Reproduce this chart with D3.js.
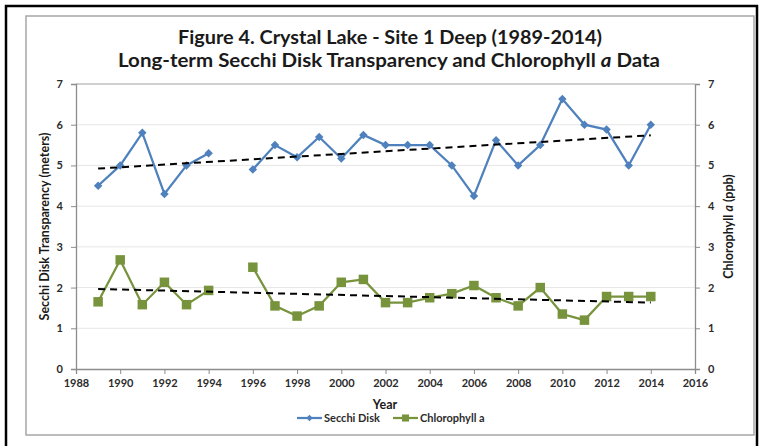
<!DOCTYPE html>
<html>
<head>
<meta charset="utf-8">
<script src="https://cdn.jsdelivr.net/npm/d3@7"></script>
<style>
  body { margin: 0; background: #fff; }
  svg { display: block; font-family: Lato, "Open Sans", sans-serif; }
</style>
</head>
<body>
<div id="chart"></div>
<script>
// Data
const years = [1989, 1990, 1991, 1992, 1993, 1994, 1995, 1996, 1997, 1998, 1999, 2000, 2001,
               2002, 2003, 2004, 2005, 2006, 2007, 2008, 2009, 2010, 2011, 2012, 2013, 2014];
const secchi = [4.5, 5.0, 5.8, 4.3, 5.0, 5.3, null, 4.9, 5.5, 5.2, 5.7, 5.17, 5.75,
                5.5, 5.5, 5.5, 5.0, 4.25, 5.62, 5.0, 5.5, 6.63, 6.0, 5.88, 5.0, 6.0];
const chla = [1.65, 2.68, 1.58, 2.13, 1.58, 1.93, null, 2.5, 1.55, 1.3, 1.55, 2.13, 2.2,
              1.63, 1.63, 1.75, 1.85, 2.05, 1.75, 1.55, 2.0, 1.35, 1.2, 1.78, 1.78, 1.78];
const xTicks = d3.range(1988, 2017, 2);
const yTicks = [0, 1, 2, 3, 4, 5, 6, 7];

const W = 765, H = 446;
const plot = { left: 76, right: 695, top: 84, bottom: 369 };
const blue = '#4f81bd', green = '#77933c', tickCol = '#2b2b2b';

const svg = d3.select('#chart').append('svg')
    .attr('width', W).attr('height', H);

// frames
svg.append('path')
    .attr('d', `M6,${H} V6 H757 V${H}`)
    .attr('fill', 'none').attr('stroke', '#000').attr('stroke-width', 2.5);
svg.append('rect')
    .attr('x', 26).attr('y', 16).attr('width', 728).attr('height', 419)
    .attr('fill', '#fff').attr('stroke', '#a6a6a6').attr('stroke-width', 1.5);

// titles
const title = svg.append('text')
    .attr('text-anchor', 'middle').attr('font-weight', 'bold').attr('font-size', 19)
    .attr('fill', '#1a1a1a');
title.append('tspan').attr('x', 390).attr('y', 44)
    .attr('textLength', 424).attr('lengthAdjust', 'spacingAndGlyphs')
    .text('Figure 4. Crystal Lake - Site 1 Deep (1989-2014)');
const t2 = title.append('tspan').attr('x', 389).attr('y', 67)
    .attr('textLength', 542).attr('lengthAdjust', 'spacingAndGlyphs');
t2.append('tspan').text('Long-term Secchi Disk Transparency and Chlorophyll ');
t2.append('tspan').attr('font-style', 'italic').text('a');
t2.append('tspan').text(' Data');

const x = d3.scaleLinear().domain([1988, 2016]).range([plot.left, plot.right]);
const y = d3.scaleLinear().domain([0, 7]).range([plot.bottom, plot.top]);

// gridlines
svg.append('g').selectAll('line')
    .data(yTicks.filter(d => d > 0))
    .enter().append('line')
    .attr('x1', plot.left).attr('x2', plot.right)
    .attr('y1', d => y(d)).attr('y2', d => y(d))
    .attr('stroke', d => d === 7 ? '#a0a0a0' : '#e6e6e6').attr('stroke-width', 1);

// axes
function styleAxis(g) {
    g.selectAll('.domain').attr('stroke', '#8c8c8c').attr('stroke-width', 1.3);
    g.selectAll('.tick line').attr('stroke', '#8c8c8c');
    g.selectAll('.tick text').attr('fill', tickCol).attr('font-weight', 'bold')
        .attr('font-size', 11).attr('font-family', 'Lato, sans-serif');
}
svg.append('g').attr('transform', `translate(0,${plot.bottom})`)
    .call(d3.axisBottom(x).tickValues(xTicks).tickFormat(d3.format('d')).tickSize(5).tickPadding(5))
    .call(styleAxis);
svg.append('g').attr('transform', `translate(${plot.left},0)`)
    .call(d3.axisLeft(y).tickValues(yTicks).tickFormat(d3.format('d')).tickSize(5).tickPadding(8))
    .call(styleAxis);
svg.append('g').attr('transform', `translate(${plot.right},0)`)
    .call(d3.axisRight(y).tickValues(yTicks).tickFormat(d3.format('d')).tickSize(5).tickPadding(8))
    .call(styleAxis);

// axis titles
svg.append('text')
    .attr('transform', `translate(49,${(plot.top + plot.bottom) / 2}) rotate(-90)`)
    .attr('text-anchor', 'middle').attr('font-weight', 'bold').attr('font-size', 12.5)
    .attr('fill', '#1a1a1a').text('Secchi Disk Transparency (meters)');
const rt = svg.append('text')
    .attr('transform', `translate(733,${(plot.top + plot.bottom) / 2}) rotate(-90)`)
    .attr('text-anchor', 'middle').attr('font-weight', 'bold').attr('font-size', 12.5)
    .attr('fill', '#1a1a1a');
rt.append('tspan').text('Chlorophyll ');
rt.append('tspan').attr('font-style', 'italic').text('a');
rt.append('tspan').text(' (ppb)');
svg.append('text')
    .attr('x', 385).attr('y', 409).attr('text-anchor', 'middle')
    .attr('font-weight', 'bold').attr('font-size', 12.5).attr('fill', '#1a1a1a').text('Year');

// linear trend (least squares) over the years that have a value
function trend(vals) {
    const pts = years.map((yr, i) => [yr, vals[i]]).filter(p => p[1] != null);
    const mx = d3.mean(pts, p => p[0]), my = d3.mean(pts, p => p[1]);
    const b = d3.sum(pts, p => (p[0] - mx) * (p[1] - my)) / d3.sum(pts, p => (p[0] - mx) ** 2);
    const a = my - b * mx;
    const x0 = pts[0][0], x1 = pts[pts.length - 1][0];
    return [[x0, a + b * x0], [x1, a + b * x1]];
}

const line = d3.line()
    .defined(d => d[1] != null)
    .x(d => x(d[0])).y(d => y(d[1]));

// diamonds are squares turned 45 degrees, as in Excel
function drawSeries(vals, color, rot, size) {
    const pts = years.map((yr, i) => [yr, vals[i]]);
    svg.append('path').datum(pts)
        .attr('d', line).attr('fill', 'none')
        .attr('stroke', color).attr('stroke-width', 2.25);
    svg.append('g').selectAll('path')
        .data(pts.filter(p => p[1] != null))
        .enter().append('path')
        .attr('transform', p => `translate(${x(p[0])},${y(p[1])}) rotate(${rot})`)
        .attr('d', d3.symbol().type(d3.symbolSquare).size(size))
        .attr('fill', color);
}

drawSeries(secchi, blue, 45, 36);
drawSeries(chla, green, 0, 90);

[secchi, chla].forEach(vals => {
    svg.append('path').datum(trend(vals))
        .attr('d', line).attr('fill', 'none')
        .attr('stroke', '#000').attr('stroke-width', 2)
        .attr('stroke-dasharray', '7,5');
});

// legend
const legend = [
    { name: 'Secchi Disk', color: blue, rot: 45, size: 20, x: 297 },
    { name: 'Chlorophyll a', color: green, rot: 0, size: 50, x: 393 }
];
const lg = svg.append('g').selectAll('g').data(legend).enter().append('g')
    .attr('transform', d => `translate(${d.x},422)`);
lg.append('line').attr('x1', 0).attr('x2', 25).attr('y1', -4).attr('y2', -4)
    .attr('stroke', d => d.color).attr('stroke-width', 2.25);
lg.append('path').attr('transform', d => `translate(12.5,-4) rotate(${d.rot})`)
    .attr('d', d => d3.symbol().type(d3.symbolSquare).size(d.size)())
    .attr('fill', d => d.color);
lg.append('text').attr('x', 27).attr('font-weight', 'bold').attr('font-size', 11)
    .attr('fill', tickCol).text(d => d.name);
</script>
</body>
</html>
